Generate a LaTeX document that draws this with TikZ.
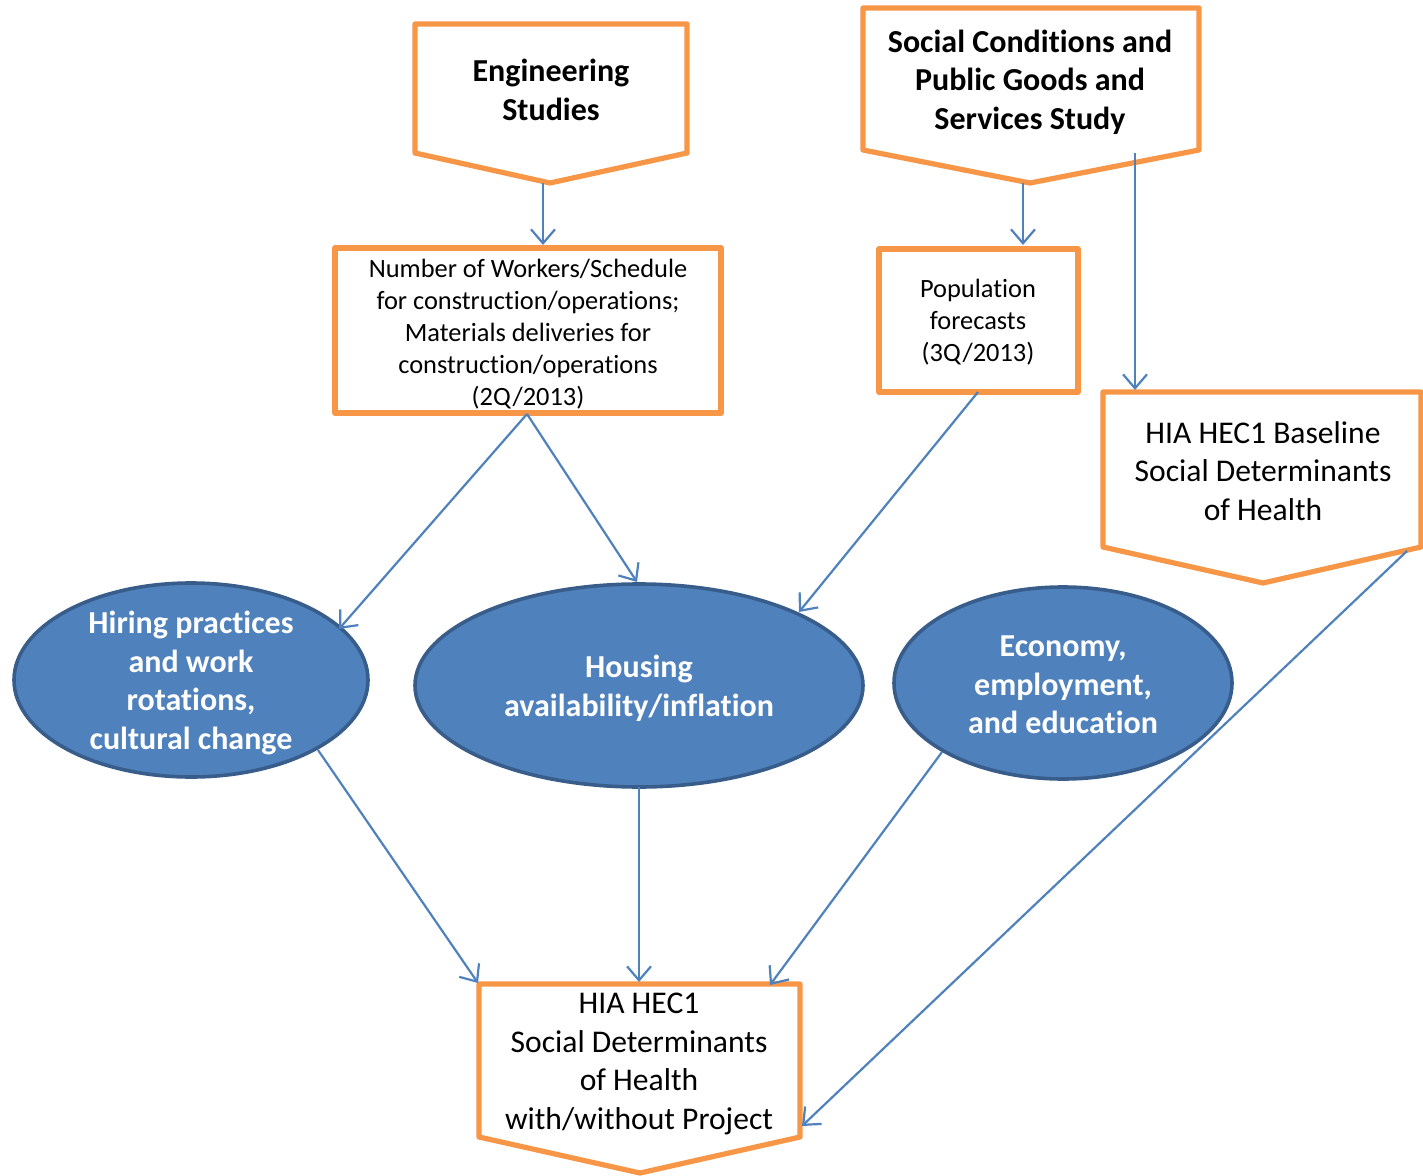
\documentclass[tikz,border=0pt]{standalone}
\usepackage{fontspec}
\setmainfont{Carlito}[Ligatures=NoCommon]
\usetikzlibrary{arrows.meta}
\definecolor{orng}{HTML}{F79646}
\definecolor{blu}{HTML}{4F81BD}
\definecolor{bluedge}{HTML}{385D8A}
\begin{document}
\begin{tikzpicture}[x=0.5pt,y=-0.5pt,
  obox/.style={draw=orng,line width=2.6pt,fill=white,line join=round},
  oval/.style={fill=blu,draw=bluedge,line width=1.8pt},
  link/.style={draw=blu,line width=1.1pt,-{Straight Barb[length=7pt,width=12pt,line width=1.1pt]}},
  btxt/.style={align=center,font=\fontsize{16}{19.3}\selectfont\bfseries,inner sep=0pt},
  rtxt/.style={align=center,font=\fontsize{15.8}{19.3}\selectfont,inner sep=0pt},
  stxt/.style={align=center,font=\fontsize{13.2}{16}\selectfont,inner sep=0pt},
  wtxt/.style={btxt,text=white}]
\useasboundingbox (0,0) rectangle (1423,1176);
% orange shapes
\draw[obox] (415,24) -- (687,24) -- (687,153) -- (550,183) -- (415,153) -- cycle;
\draw[obox] (863,8) -- (1199,8) -- (1199,150) -- (1030,183) -- (863,150) -- cycle;
\draw[obox] (335,248) rectangle (721,413);
\draw[obox] (879,249) rectangle (1078,392);
\draw[obox] (1103,392) -- (1421,392) -- (1421,547) -- (1263,583) -- (1103,547) -- cycle;
\draw[obox] (479,984) -- (800,984) -- (800,1137) -- (640,1173) -- (479,1137) -- cycle;
% ellipses
\draw[oval] (191,680) ellipse [x radius=88.5pt, y radius=48.5pt];
\draw[oval] (639,685.5) ellipse [x radius=112pt, y radius=50.75pt];
\draw[oval] (1063,683) ellipse [x radius=84.5pt, y radius=48pt];
% texts
\node[btxt] (eng) at (551,90) {Engineering\\Studies};
\node[btxt] (soc) at (1030,82) {Social Conditions and\\Public Goods and\\Services Study};
\node[stxt] (work) at (528,334) {Number of Workers/Schedule\\for construction/operations;\\Materials deliveries for\\construction/operations\\(2Q/2013)};
\node[stxt] (pop) at (978,322) {Population\\forecasts\\(3Q/2013)};
\node[rtxt] (base) at (1263,471) {HIA HEC1 Baseline\\Social Determinants\\of Health};
\node[wtxt] (hire) at (191,683) {Hiring practices\\and work\\rotations,\\cultural change};
\node[wtxt] (house) at (639,688) {Housing\\availability/inflation};
\node[wtxt] (econ) at (1063,685) {Economy,\\employment,\\and education};
\node[rtxt] (sdh) at (639,1064) {HIA HEC1\\Social Determinants\\of Health\\with/without Project};
% connector end points
\coordinate (engB) at (543,183);
\coordinate (workT) at (543,245);
\coordinate (socB) at (1023,183);
\coordinate (popT) at (1023,245);
\coordinate (socR) at (1135,153);
\coordinate (baseT) at (1135,390);
\coordinate (workB) at (527,414);
\coordinate (hireT) at (339,629);
\coordinate (houseT) at (637,582);
\coordinate (popB) at (978,392);
\coordinate (houseR) at (799,612);
\coordinate (hireB) at (318,750);
\coordinate (sdhL) at (478,983);
\coordinate (houseB) at (639,787);
\coordinate (sdhT) at (639,982);
\coordinate (econB) at (942,752);
\coordinate (sdhR) at (770,985);
\coordinate (baseB) at (1407,551);
\coordinate (sdhS) at (802,1126);
% connectors
\draw[link] (engB) -- (workT);
\draw[link] (socB) -- (popT);
\draw[link] (socR) -- (baseT);
\draw[link] (workB) -- (hireT);
\draw[link] (workB) -- (houseT);
\draw[link] (popB) -- (houseR);
\draw[link] (hireB) -- (sdhL);
\draw[link] (houseB) -- (sdhT);
\draw[link] (econB) -- (sdhR);
\draw[link] (baseB) -- (sdhS);
\end{tikzpicture}
\end{document}
